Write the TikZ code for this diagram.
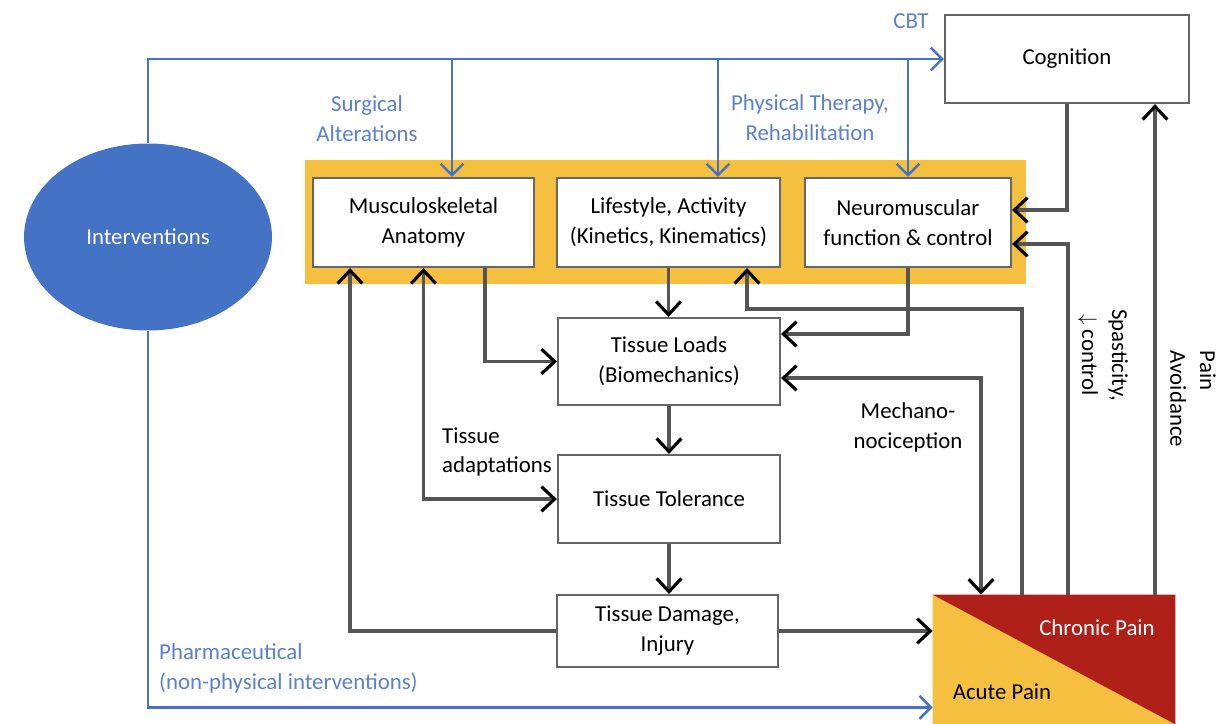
\documentclass[tikz,border=0pt]{standalone}
\usepackage{fontspec}
\setmainfont{Carlito}
\usetikzlibrary{arrows.meta,shapes.geometric}
\definecolor{ublue}{HTML}{4472C4}
\definecolor{ltblue}{HTML}{5B80D0}
\definecolor{uorange}{HTML}{F5BF3F}
\definecolor{ured}{HTML}{AE2018}
\definecolor{linegray}{HTML}{555555}
\definecolor{boxgray}{HTML}{666666}

\begin{document}
\begin{tikzpicture}[x=0.02cm, y=-0.02cm, font=\fontsize{13}{17}\selectfont,
	box/.style={draw=boxgray, line width=1.2pt, fill=white, align=center, inner sep=0pt},
	flow/.style={draw=linegray, line width=1.8pt},
	blueflow/.style={draw=ublue, line width=1.4pt, -{Straight Barb[length=6.5pt,width=13pt]}},
	bluetext/.style={text=ltblue, align=center},
	>={Straight Barb[length=7.5pt,width=14pt,color=black]}]
	\useasboundingbox (0,0) rectangle (1218,724);
	% The orange band behind the three top boxes
	\fill[uorange] (305,160) rectangle (1026,284);
	\node[ellipse, fill=ublue, text=white, minimum width=4.96cm, minimum height=3.74cm, inner sep=0pt] (interv) at (148,237) {Interventions};
	\node[box, minimum width=4.88cm, minimum height=1.76cm] (cog) at (1067,59) {Cognition};
	\node[box, minimum width=4.42cm, minimum height=1.78cm] (musc) at (423.5,222.5) {Musculoskeletal\\Anatomy};
	\node[box, minimum width=4.46cm, minimum height=1.78cm] (life) at (668.5,222.5) {Lifestyle, Activity\\(Kinetics, Kinematics)};
	\node[box, minimum width=4.12cm, minimum height=1.78cm] (neuro) at (908,222.5) {Neuromuscular\\function \& control};
	\node[box, minimum width=4.44cm, minimum height=1.74cm] (loads) at (669,361.5) {Tissue Loads\\(Biomechanics)};
	\node[box, minimum width=4.44cm, minimum height=1.76cm] (tol) at (669,499) {Tissue Tolerance};
	\node[box, minimum width=4.42cm, minimum height=1.44cm] (dam) at (667.5,631) {Tissue Damage,\\Injury};
	% Pain square, split on the diagonal
	\node[minimum width=4.84cm, minimum height=2.58cm, inner sep=0pt] (pain) at (1054,659.5) {};
	\fill[uorange] (pain.north west) -- (pain.south east) -- (pain.south west) -- cycle;
	\fill[ured] (pain.north west) -- (pain.north east) -- (pain.south east) -- cycle;
	\node[text=white] (chronic) at (1097,628) {Chronic Pain};
	\node (acute) at (1002,692) {Acute Pain};
	% Labels
	\node[bluetext] (cbt) at (911,21) {CBT};
	\node[bluetext] (surg) at (367,119) {Surgical\\Alterations};
	\node[bluetext] (pt) at (810,118) {Physical Therapy,\\Rehabilitation};
	\node[bluetext, align=left, anchor=west] (pharma) at (153,668) {Pharmaceutical\\(non-physical interventions)};
	\node[align=left, anchor=west] (adapt) at (436,452) {Tissue\\adaptations};
	\node[align=center] (mech) at (908,427) {Mechano-\\nociception};
	\node[rotate=-90, align=center] (spas) at (1103,355) {Spasticity,\\$\downarrow$ control};
	\node[rotate=-90, align=left] (avoid) at (1193,399) {Pain\\Avoidance};
	% Interventions (blue)
	\draw[blueflow] (interv.north) |- (cog.west);
	\draw[blueflow] ([xshift=0.57cm]musc.north |- cog.west) -- ([xshift=0.57cm]musc.north);
	\draw[blueflow] ([xshift=0.99cm]life.north |- cog.west) -- ([xshift=0.99cm]life.north);
	\draw[blueflow] (neuro.north |- cog.west) -- (neuro.north);
	\draw[blueflow] (interv.south) |- ([yshift=0.34cm]pain.south west);
	% Tissue chain
	\draw[flow, ->] ([xshift=1.23cm]musc.south) |- (loads.west);
	\draw[flow, ->] (life.south) -- (life.south |- loads.north);
	\draw[flow, ->] (neuro.south) |- ([yshift=0.55cm]loads.east);
	\draw[flow, ->] (loads.south) -- (tol.north);
	\draw[flow, ->] (tol.south) -- (tol.south |- dam.north);
	\draw[flow, ->] (dam.west) -| ([xshift=-1.47cm]musc.south);
	\draw[flow, <->] (musc.south) |- (tol.west);
	\draw[flow, ->] (dam.east) -- (dam.east -| pain.west);
	\draw[flow, <->] ([yshift=-0.33cm]loads.east) -| ([xshift=-1.46cm]pain.north);
	% Feedback from pain
	\draw[flow, ->] ([xshift=-0.64cm]pain.north) |- ([xshift=1.57cm, yshift=-0.82cm]life.south) -- ([xshift=1.57cm]life.south);
	\draw[flow, ->] ([xshift=0.28cm]pain.north) |- ([yshift=-0.43cm]neuro.east);
	\draw[flow, ->] (cog.south) |- ([yshift=0.25cm]neuro.east);
	\draw[flow, ->] ([xshift=2.02cm]pain.north) -- ([xshift=2.02cm]pain.north |- cog.south);
\end{tikzpicture}
\end{document}
